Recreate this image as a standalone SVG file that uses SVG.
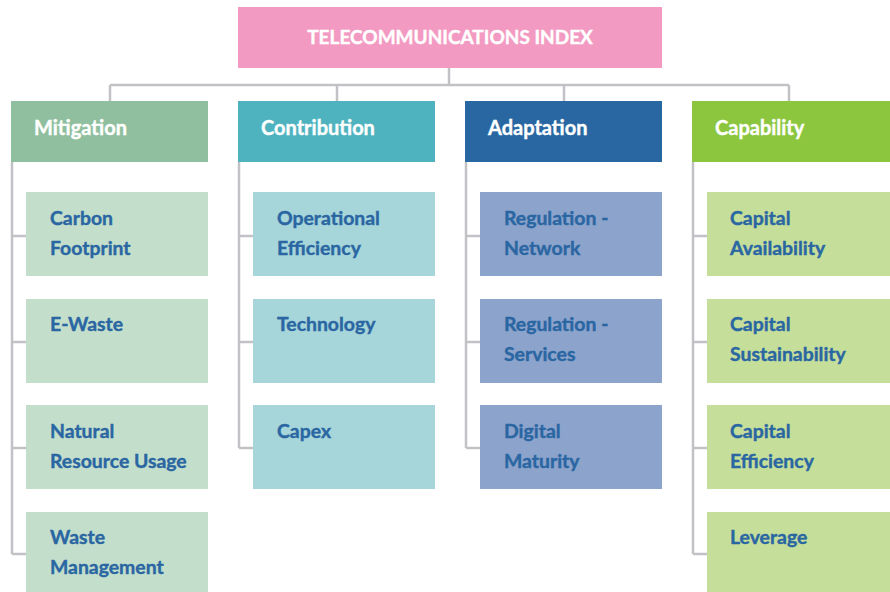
<svg xmlns="http://www.w3.org/2000/svg" width="890" height="592" viewBox="0 0 890 592">
<style>
text{font-family:Lato,"Open Sans","Liberation Sans",sans-serif;font-weight:700}
.h{fill:#ffffff;stroke:#ffffff;stroke-width:0.4;font-size:20px}
.t{fill:#ffffff;stroke:#ffffff;stroke-width:0.4;font-size:19px}
.c{fill:#2a66a2;stroke:#2a66a2;stroke-width:0.4;font-size:19.4px}
.ln{fill:none;stroke:#c2c2c6;stroke-width:2.5}
</style>
<rect width="890" height="592" fill="#ffffff"/>
<g id="connectors" class="ln">
<path d="M449 68V85M110 85H789M110 85V101M337 85V101M564 85V101M789 85V101"/>
<path d="M12 162V554M12 236H26M12 342H26M12 448H26M12 554H26"/>
<path d="M239 162V448M239 236H253M239 342H253M239 448H253"/>
<path d="M466 162V448M466 236H480M466 342H480M466 448H480"/>
<path d="M693 162V554M693 236H707M693 342H707M693 448H707M693 554H707"/>
</g>
<g id="title"><rect x="238" y="7" width="424" height="61" fill="#f39ac2"/><text class="t" x="450" y="44" text-anchor="middle">TELECOMMUNICATIONS INDEX</text></g>
<g id="mitigation"><rect x="11" y="101" width="197" height="61" fill="#8fbf9e"/><text class="h" x="34" y="135">Mitigation</text></g>
<g id="contribution"><rect x="238" y="101" width="197" height="61" fill="#4fb3bf"/><text class="h" x="261" y="135">Contribution</text></g>
<g id="adaptation"><rect x="465" y="101" width="197" height="61" fill="#2867a2"/><text class="h" x="488" y="135">Adaptation</text></g>
<g id="capability"><rect x="692" y="101" width="198" height="61" fill="#8cc63f"/><text class="h" x="715" y="135">Capability</text></g>

<g id="carbon"><rect x="26" y="192" width="182" height="84" fill="#c3dfcc"/><text class="c" x="50" y="225">Carbon<tspan x="50" y="255">Footprint</tspan></text></g>
<g id="ewaste"><rect x="26" y="299" width="182" height="84" fill="#c3dfcc"/><text class="c" x="50" y="331">E-Waste</text></g>
<g id="natural"><rect x="26" y="405" width="182" height="84" fill="#c3dfcc"/><text class="c" x="50" y="438">Natural<tspan x="50" y="468">Resource Usage</tspan></text></g>
<g id="wastemgmt"><rect x="26" y="512" width="182" height="84" fill="#c3dfcc"/><text class="c" x="50" y="544">Waste<tspan x="50" y="574">Management</tspan></text></g>

<g id="operational"><rect x="253" y="192" width="182" height="84" fill="#a6d5da"/><text class="c" x="277" y="225">Operational<tspan x="277" y="255">Efficiency</tspan></text></g>
<g id="technology"><rect x="253" y="299" width="182" height="84" fill="#a6d5da"/><text class="c" x="277" y="331">Technology</text></g>
<g id="capex"><rect x="253" y="405" width="182" height="84" fill="#a6d5da"/><text class="c" x="277" y="438">Capex</text></g>

<g id="regnetwork"><rect x="480" y="192" width="182" height="84" fill="#8ca3cc"/><text class="c" x="504" y="225">Regulation -<tspan x="504" y="255">Network</tspan></text></g>
<g id="regservices"><rect x="480" y="299" width="182" height="84" fill="#8ca3cc"/><text class="c" x="504" y="331">Regulation -<tspan x="504" y="361">Services</tspan></text></g>
<g id="digital"><rect x="480" y="405" width="182" height="84" fill="#8ca3cc"/><text class="c" x="504" y="438">Digital<tspan x="504" y="468">Maturity</tspan></text></g>

<g id="capavail"><rect x="707" y="192" width="183" height="84" fill="#c5df9b"/><text class="c" x="730" y="225">Capital<tspan x="730" y="255">Availability</tspan></text></g>
<g id="capsust"><rect x="707" y="299" width="183" height="84" fill="#c5df9b"/><text class="c" x="730" y="331">Capital<tspan x="730" y="361">Sustainability</tspan></text></g>
<g id="capeff"><rect x="707" y="405" width="183" height="84" fill="#c5df9b"/><text class="c" x="730" y="438">Capital<tspan x="730" y="468">Efficiency</tspan></text></g>
<g id="leverage"><rect x="707" y="512" width="183" height="84" fill="#c5df9b"/><text class="c" x="730" y="544">Leverage</text></g>
</svg>
